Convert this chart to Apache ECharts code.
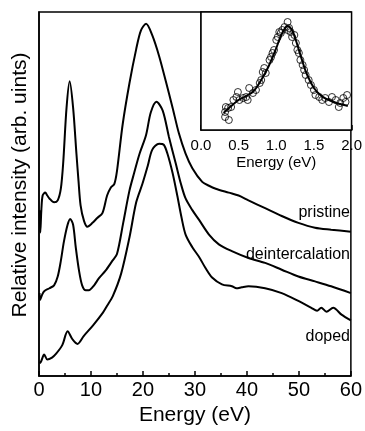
<!DOCTYPE html>
<html>
<head>
<meta charset="utf-8">
<script src="https://cdn.jsdelivr.net/npm/echarts@6/dist/echarts.min.js"></script>
<style>
  html, body { margin: 0; padding: 0; background: #fff; }
  #chart { width: 365px; height: 431px; }
</style>
</head>
<body>
<div id="chart"></div>
<script>
// main panel: energy (eV), relative intensity (arb. units)
const pristine = [
  [0.1, 170], [0.25, 147], [0.45, 170], [0.7, 185], [1.2, 188], [1.6, 185], [2.0, 182],
  [2.9, 178], [3.6, 180], [4.2, 192], [4.65, 218], [5.3, 275], [5.9, 302], [6.56, 275],
  [7.2, 228], [7.6, 200], [8.0, 175], [8.66, 159], [9.3, 153], [10.3, 157], [11.2, 162],
  [12.2, 167], [13.1, 185], [13.8, 193], [14.5, 197], [15.0, 210], [16.1, 258], [17.4, 300],
  [18.7, 335], [19.6, 354], [20.6, 361], [21.8, 349], [23.1, 328], [24.4, 302], [25.7, 275],
  [26.9, 249], [28.2, 228], [29.5, 213], [31.4, 199], [32.7, 195], [34.0, 192], [36.5, 188],
  [38.4, 185], [40.3, 180], [43.5, 172], [46.7, 164], [49.9, 157], [53.1, 152], [56.2, 150],
  [60, 148]
];
const deintercalation = [
  [0.1, 85], [0.2, 78], [0.57, 83], [1.0, 87], [2.0, 90], [2.9, 93], [3.6, 102], [4.2, 118],
  [4.8, 138], [5.5, 155], [6.0, 161], [6.56, 155], [7.07, 132], [7.7, 108], [8.3, 93],
  [9.0, 88], [9.6, 88], [10.6, 93], [11.5, 100], [12.8, 108], [14.1, 118], [15.0, 125],
  [16.2, 157], [17.4, 190], [18.3, 208], [19.3, 227], [20.6, 247], [21.5, 270], [22.6, 281],
  [23.8, 272], [25.0, 245], [26.3, 218], [27.3, 197], [28.2, 182], [29.5, 170], [30.8, 160],
  [32.7, 145], [34.6, 135], [37.1, 128], [40.3, 121], [43.5, 116], [46.7, 109], [49.9, 102],
  [53.1, 97], [56.2, 92], [60, 85]
];
const doped = [
  [0.1, 13], [0.4, 15], [1.0, 22], [1.6, 17], [2.5, 19], [3.3, 23], [4.5, 32], [5.5, 46],
  [6.4, 38], [7.4, 33], [8.6, 41], [10.4, 52], [12.3, 65], [13.1, 72], [14.2, 82], [15.8, 105],
  [17.4, 142], [18.7, 178], [19.9, 197], [20.9, 215], [21.8, 232], [23.1, 238], [24.0, 237],
  [24.7, 228], [25.7, 208], [26.6, 185], [27.4, 163], [28.2, 145], [29.5, 132], [30.8, 122],
  [32.0, 111], [33.3, 101], [35.2, 94], [37.1, 92], [38.0, 90], [39.0, 91], [40.3, 92],
  [43.5, 90], [46.7, 85], [49.9, 77], [52.4, 70], [53.5, 67], [54.3, 70], [55.3, 66],
  [56.6, 70], [58.2, 63], [60, 57]
];
const curveNames = ["pristine", "deintercalation", "doped"];

// inset: measured points and fitted curve
const insetPoints = [
  [0.32, 13], [0.37, 10], [0.32, 18], [0.33, 23], [0.36, 22], [0.40, 23], [0.43, 30], [0.47, 33],
  [0.49, 38], [0.51, 30], [0.56, 32], [0.60, 33], [0.64, 42], [0.62, 30], [0.69, 37], [0.73, 40],
  [0.78, 47], [0.80, 50], [0.82, 58], [0.84, 62], [0.86, 57], [0.91, 70], [0.93, 73], [0.95, 77],
  [0.97, 80], [1.0, 90], [1.02, 93], [1.04, 98], [1.06, 97], [1.08, 100], [1.11, 103], [1.15, 108],
  [1.15, 100], [1.17, 102], [1.19, 98], [1.21, 93], [1.24, 95], [1.26, 87], [1.28, 80], [1.30, 77],
  [1.32, 70], [1.35, 65], [1.37, 60], [1.39, 55], [1.43, 50], [1.46, 45], [1.50, 40], [1.52, 35],
  [1.57, 33], [1.61, 30], [1.65, 32], [1.70, 28], [1.74, 33], [1.79, 30], [1.83, 23], [1.85, 27],
  [1.89, 32], [1.94, 35], [1.92, 28]
];
const insetFit = [
  [0.3, 17], [0.4, 24], [0.5, 30], [0.6, 34], [0.7, 39], [0.8, 50], [0.9, 64], [1.0, 82],
  [1.05, 92], [1.1, 100], [1.15, 104], [1.2, 101], [1.25, 92], [1.3, 80], [1.35, 68], [1.4, 57],
  [1.5, 42], [1.6, 34], [1.7, 30], [1.8, 27], [1.9, 25], [1.95, 24]
];

const font = "'Liberation Sans', Arial, Helvetica, sans-serif";
const chart = echarts.init(document.getElementById("chart"));

const lineSeries = (name, data) => ({
  name: name,
  type: "line",
  xAxisIndex: 0,
  yAxisIndex: 0,
  data: data,
  showSymbol: false,
  smooth: 0.3,
  lineStyle: { color: "#000", width: 2 },
  silent: true
});

const options = {
  animation: false,
  backgroundColor: "#fff",
  grid: [
    { left: 39, top: 12, right: 12, bottom: 46, show: true, borderColor: "#000", borderWidth: 1.5 },
    { left: 201, top: 12, right: 12, bottom: 301, show: true, borderColor: "#000", borderWidth: 1.5, backgroundColor: "#fff", z: 3 }
  ],
  xAxis: [
    {
      gridIndex: 0, type: "value", min: 0, max: 60, interval: 10,
      name: "Energy (eV)", nameLocation: "middle", nameGap: 24,
      nameTextStyle: { fontFamily: font, fontSize: 21, color: "#000" },
      axisLine: { lineStyle: { color: "#000", width: 1.5 } },
      axisTick: { inside: true, length: 5, lineStyle: { color: "#000", width: 1.5 } },
      minorTick: { show: true, splitNumber: 2, length: 3, lineStyle: { color: "#000", width: 1.5 } },
      axisLabel: { fontFamily: font, fontSize: 20, color: "#000", margin: 4 },
      splitLine: { show: false }
    },
    {
      gridIndex: 1, type: "value", min: 0, max: 2, interval: 0.5,
      name: "Energy (eV)", nameLocation: "middle", nameGap: 25,
      nameTextStyle: { fontFamily: font, fontSize: 15, color: "#000" },
      axisLine: { lineStyle: { color: "#000", width: 1.5 } },
      axisTick: { inside: true, length: 5, lineStyle: { color: "#000", width: 1.5 } },
      minorTick: { show: true, splitNumber: 2, length: 3, lineStyle: { color: "#000", width: 1.5 } },
      axisLabel: { fontFamily: font, fontSize: 15, color: "#000", margin: 8, formatter: (v) => v.toFixed(1) },
      splitLine: { show: false }
    }
  ],
  yAxis: [
    {
      gridIndex: 0, type: "value", min: 0, max: 373,
      axisLine: { show: true, lineStyle: { color: "#000", width: 1.5 } },
      axisTick: { show: false }, axisLabel: { show: false }, splitLine: { show: false }
    },
    {
      gridIndex: 1, type: "value", min: 0, max: 118,
      axisLine: { show: true, lineStyle: { color: "#000", width: 1.5 } },
      axisTick: { show: false }, axisLabel: { show: false }, splitLine: { show: false }
    }
  ],
  graphic: [
    {
      type: "text", x: 20, y: 185, rotation: Math.PI / 2,
      style: { text: "Relative intensity (arb. uints)", fontFamily: font, fontSize: 21, fill: "#000", align: "center", verticalAlign: "middle" }
    },
    { type: "text", x: 350, y: 213, style: { text: curveNames[0], fontFamily: font, fontSize: 16, fill: "#000", align: "right", verticalAlign: "middle" } },
    { type: "text", x: 350, y: 255, style: { text: curveNames[1], fontFamily: font, fontSize: 16, fill: "#000", align: "right", verticalAlign: "middle" } },
    { type: "text", x: 350, y: 337, style: { text: curveNames[2], fontFamily: font, fontSize: 16, fill: "#000", align: "right", verticalAlign: "middle" } }
  ],
  series: [
    lineSeries(curveNames[0], pristine),
    lineSeries(curveNames[1], deintercalation),
    lineSeries(curveNames[2], doped),
    {
      type: "line", xAxisIndex: 1, yAxisIndex: 1, data: insetFit,
      showSymbol: false, smooth: 0.4, z: 4,
      lineStyle: { color: "#000", width: 2 }, silent: true
    },
    {
      type: "scatter", xAxisIndex: 1, yAxisIndex: 1, data: insetPoints,
      symbol: "circle", symbolSize: 7, z: 5,
      itemStyle: { color: "rgba(255,255,255,0)", borderColor: "#000", borderWidth: 1 }, silent: true
    }
  ]
};
chart.setOption(options);
</script>
</body>
</html>
